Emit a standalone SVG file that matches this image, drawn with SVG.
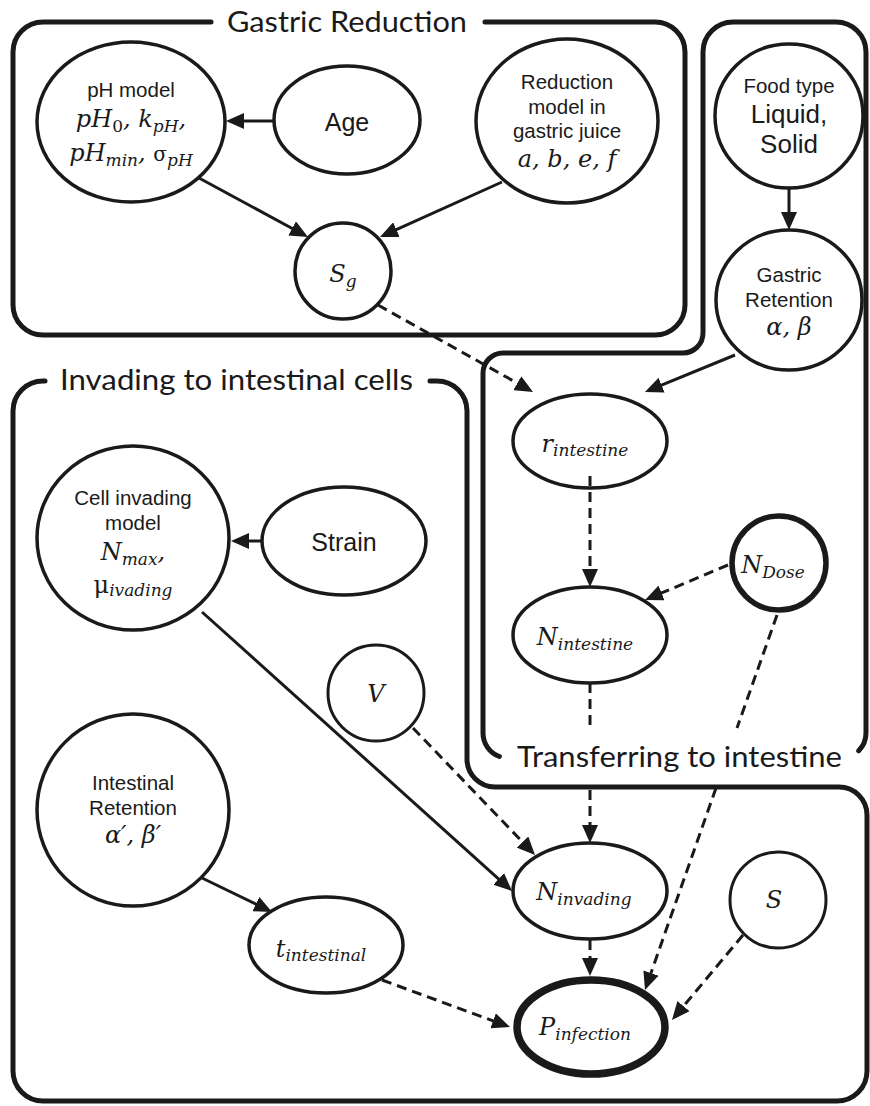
<svg xmlns="http://www.w3.org/2000/svg" width="870" height="1106" viewBox="0 0 870 1106">
<defs>
<marker id="ah" markerUnits="userSpaceOnUse" markerWidth="18" markerHeight="16" refX="8" refY="8" orient="auto" viewBox="0 0 18 16"><path d="M0,0 L18,8 L0,16 z" fill="#1a1a1a"/></marker>
</defs>
<style>
.box{fill:none;stroke:#1a1a1a;stroke-width:5;stroke-linecap:round;stroke-linejoin:round}
.node{fill:#fff;stroke:#1a1a1a;stroke-width:3.5}
.thin{stroke-width:3}
.bold{stroke-width:5.5}
.xbold{stroke-width:7.5}
.title{font-family:Lato,"Open Sans",sans-serif;font-size:29px;fill:#1a1a1a}
.sans{font-family:"Liberation Sans",Arial,sans-serif;font-size:20.5px;fill:#1a1a1a;text-anchor:middle}
.big{font-size:25px}
.big2{font-size:26px}
.math{font-family:"DejaVu Serif",serif;font-style:italic;font-size:24px;fill:#1a1a1a;text-anchor:middle}
.sub{font-size:17px}
.up{font-style:normal}
.line{fill:none;stroke:#1a1a1a;stroke-width:3}
.edge{fill:none;stroke:#1a1a1a;stroke-width:3;marker-end:url(#ah)}
.dash{stroke-dasharray:10 6}
</style>

<g id="containers">
  <g id="gastric-reduction">
    <path class="box" d="M211,22 L43,22 A30,30 0 0 0 13,52 L13,305 A30,30 0 0 0 43,335 L655,335 A30,30 0 0 0 685,305 L685,52 A30,30 0 0 0 655,22 L485,22"/>
    <text class="title" x="227" y="32" textLength="240" lengthAdjust="spacingAndGlyphs">Gastric Reduction</text>
  </g>
  <g id="transferring">
    <path class="box" d="M499.4,756.5 A25,25 0 0 1 483,733 L483,373 A20,20 0 0 1 503,353 L683,353 A20,20 0 0 0 703,333 L703,52 A30,30 0 0 1 733,22 L836,22 A30,30 0 0 1 866,52 L866,733 A25,25 0 0 1 858.7,750.7"/>
    <text class="title" x="517" y="767" textLength="325" lengthAdjust="spacingAndGlyphs">Transferring to intestine</text>
  </g>
  <g id="invading">
    <path class="box" d="M45,381 L43,381 A30,30 0 0 0 13,411 L13,1071 A30,30 0 0 0 43,1101 L837,1101 A30,30 0 0 0 867,1071 L867,815 A28,28 0 0 0 839,787 L495,787 A28,28 0 0 1 467,759 L467,411 A30,30 0 0 0 437,381 L430,381"/>
    <text class="title" x="60" y="390" textLength="353" lengthAdjust="spacingAndGlyphs">Invading to intestinal cells</text>
  </g>
</g>

<g id="ph-model">
  <ellipse class="node" cx="131" cy="122" rx="94" ry="80"/>
  <text class="sans" x="131" y="97">pH model</text>
  <text class="math" x="131" y="127">pH<tspan class="sub up" dy="5">0</tspan><tspan dy="-5">, k</tspan><tspan class="sub" dy="5">pH</tspan><tspan dy="-5">,</tspan></text>
  <text class="math" x="131" y="161">pH<tspan class="sub" dy="5">min</tspan><tspan dy="-5">, </tspan><tspan class="up" style="font-size:20px">σ</tspan><tspan class="sub" dy="5">pH</tspan></text>
</g>
<g id="age">
  <ellipse class="node" cx="347" cy="120" rx="73" ry="54"/>
  <text class="sans big" x="347" y="131">Age</text>
</g>
<g id="reduction-model">
  <ellipse class="node" cx="567" cy="121" rx="91" ry="82"/>
  <text class="sans" x="567" y="89">Reduction</text>
  <text class="sans" x="567" y="114">model in</text>
  <text class="sans" x="567" y="138">gastric juice</text>
  <text class="math" x="567" y="167">a, b, e, f</text>
</g>
<g id="sg">
  <circle class="node" cx="343" cy="271" r="48"/>
  <text class="math" x="343" y="282">S<tspan class="sub" dy="5">g</tspan></text>
</g>
<g id="food-type">
  <ellipse class="node" cx="789" cy="116" rx="74" ry="72"/>
  <text class="sans" x="789" y="93">Food type</text>
  <text class="sans big2" x="789" y="123">Liquid,</text>
  <text class="sans big2" x="789" y="153">Solid</text>
</g>
<g id="gastric-retention">
  <ellipse class="node" cx="789" cy="300" rx="73" ry="70"/>
  <text class="sans" x="789" y="282">Gastric</text>
  <text class="sans" x="789" y="307">Retention</text>
  <text class="math" x="789" y="335">α, β</text>
</g>
<g id="r-intestine">
  <ellipse class="node" cx="590" cy="441" rx="77" ry="47"/>
  <text class="math" x="585" y="452">r<tspan class="sub" dy="4">intestine</tspan></text>
</g>
<g id="n-intestine">
  <ellipse class="node" cx="590" cy="635" rx="77" ry="48"/>
  <text class="math" x="585" y="645">N<tspan class="sub" dy="5">intestine</tspan></text>
</g>
<g id="n-dose">
  <circle class="node bold" cx="779" cy="563" r="47"/>
  <text class="math" x="773" y="573">N<tspan class="sub" dy="5">Dose</tspan></text>
</g>
<g id="cell-invading">
  <ellipse class="node" cx="133" cy="538" rx="96" ry="92"/>
  <text class="sans" x="133" y="505">Cell invading</text>
  <text class="sans" x="133" y="530">model</text>
  <text class="math" x="133" y="560">N<tspan class="sub" dy="5">max</tspan><tspan dy="-5">,</tspan></text>
  <text class="math" x="133" y="593"><tspan class="up">μ</tspan><tspan class="sub" dy="3">ivading</tspan></text>
</g>
<g id="strain">
  <ellipse class="node" cx="344" cy="541" rx="82" ry="54"/>
  <text class="sans big" x="344" y="551">Strain</text>
</g>
<g id="v">
  <circle class="node thin" cx="376" cy="693" r="48"/>
  <text class="math" x="376" y="702">V</text>
</g>
<g id="intestinal-retention">
  <ellipse class="node" cx="133" cy="810" rx="96" ry="96"/>
  <text class="sans" x="133" y="790">Intestinal</text>
  <text class="sans" x="133" y="815">Retention</text>
  <text class="math" x="133" y="843">α′, β′</text>
</g>
<g id="t-intestinal">
  <ellipse class="node" cx="326" cy="945" rx="77" ry="48"/>
  <text class="math" x="321" y="957">t<tspan class="sub" dy="4">intestinal</tspan></text>
</g>
<g id="n-invading">
  <ellipse class="node" cx="590" cy="891" rx="77" ry="48"/>
  <text class="math" x="584" y="900">N<tspan class="sub" dy="5">invading</tspan></text>
</g>
<g id="s">
  <circle class="node thin" cx="778" cy="900" r="48"/>
  <text class="math" x="774" y="908">S</text>
</g>
<g id="p-infection">
  <ellipse class="node xbold" cx="591" cy="1027" rx="74" ry="47"/>
  <text class="math" x="585" y="1035">P<tspan class="sub" dy="5">infection</tspan></text>
</g>

<g id="connectors">
  <line class="edge" x1="273" y1="121" x2="236" y2="121"/>
  <line class="edge" x1="199" y1="178" x2="299.2" y2="232.2"/>
  <line class="edge" x1="502" y1="182" x2="389.1" y2="232.9"/>
  <line class="edge" x1="789" y1="188" x2="789" y2="220"/>
  <line class="edge" x1="735" y1="355" x2="654.2" y2="388.2"/>
  <line class="edge dash" x1="378" y1="305" x2="524.3" y2="387.1"/>
  <line class="edge dash" x1="590" y1="476" x2="590" y2="577"/>
  <line class="edge dash" x1="728" y1="565" x2="654.2" y2="596.1"/>
  <line class="line dash" x1="590" y1="683" x2="590" y2="728"/>
  <line class="edge dash" x1="590" y1="790" x2="590" y2="833"/>
  <line class="line dash" x1="777" y1="615" x2="737" y2="728"/>
  <line class="edge dash" x1="716" y1="788" x2="648.3" y2="980.6"/>
  <line class="edge" x1="262" y1="541" x2="241" y2="541"/>
  <line class="edge" x1="202" y1="612" x2="504.6" y2="884.3"/>
  <line class="edge dash" x1="413" y1="728" x2="528.1" y2="847.8"/>
  <line class="edge" x1="202" y1="878" x2="263" y2="907.6"/>
  <line class="edge dash" x1="382" y1="980" x2="500.6" y2="1023.6"/>
  <line class="edge dash" x1="590" y1="940" x2="590" y2="966"/>
  <line class="edge dash" x1="743" y1="935" x2="678.4" y2="1012.3"/>
</g>
</svg>
